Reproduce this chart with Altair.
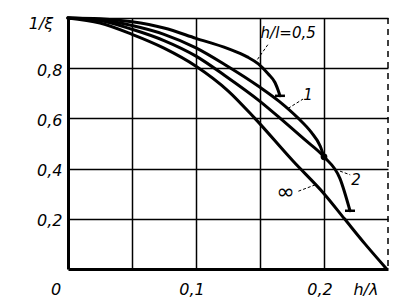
import altair as alt
import pandas as pd

# ---- data ----
h05_x = [0, 0.025, 0.05, 0.075, 0.1, 0.125, 0.14, 0.1487, 0.1565, 0.1617, 0.1643, 0.1656]
h05_y = [1.0, 0.997, 0.985, 0.96, 0.919, 0.878, 0.845, 0.817, 0.777, 0.743, 0.71, 0.69]
h1_x = [0, 0.025, 0.05, 0.075, 0.1, 0.1227, 0.15, 0.165, 0.18, 0.19, 0.197, 0.2]
h1_y = [1.0, 0.993, 0.97, 0.935, 0.881, 0.814, 0.724, 0.668, 0.6, 0.545, 0.49, 0.447]
h2_x = [0, 0.025, 0.05, 0.075, 0.1, 0.1227, 0.15, 0.167, 0.185, 0.2, 0.2125, 0.2203]
h2_y = [1.0, 0.99, 0.955, 0.91, 0.848, 0.77, 0.668, 0.595, 0.515, 0.447, 0.36, 0.232]
inf_x = [0, 0.025, 0.05, 0.075, 0.1, 0.125, 0.146, 0.1758, 0.2, 0.216, 0.232, 0.249]
inf_y = [1.0, 0.98, 0.935, 0.88, 0.808, 0.71, 0.6, 0.43, 0.3, 0.2, 0.1, 0.0]
curve_names = ["0,5", "1", "2", "inf"]

x_ticks = [0.0, 0.1, 0.2]
x_tick_labels = ["0", "0,1", "0,2"]
x_title = "h/λ"
y_title = "1/ξ"

# annotation labels
ann_text = ["h/l=0,5", "1", "2", "∞"]
ann_x = [0.172, 0.1875, 0.225, 0.170]
ann_y = [0.942, 0.693, 0.355, 0.305]

FONT = "DejaVu Sans"

rows = []
for name, xs_, ys_ in zip(curve_names, [h05_x, h1_x, h2_x, inf_x], [h05_y, h1_y, h2_y, inf_y]):
    for xv, yv in zip(xs_, ys_):
        rows.append({"curve": name, "x": xv, "y": yv})
df = pd.DataFrame(rows)

ends = pd.DataFrame({"x": [h05_x[-1], h2_x[-1]], "y": [h05_y[-1], h2_y[-1]]})
dot = pd.DataFrame({"x": [h1_x[-1]], "y": [h1_y[-1]]})

xs = alt.Scale(domain=[0, 0.25], nice=False, zero=False)
ys = alt.Scale(domain=[0, 1], nice=False)

lines = alt.Chart(df).mark_line(
    color="black", strokeWidth=3, interpolate="monotone", strokeCap="round"
).encode(
    x=alt.X("x:Q", scale=xs, axis=alt.Axis(
        values=[0.05, 0.1, 0.15, 0.2], grid=True, labels=False, ticks=False, title=None,
        domainWidth=3, domainColor="black", gridColor="black", gridWidth=1.5, gridOpacity=1)),
    y=alt.Y("y:Q", scale=ys, axis=alt.Axis(
        values=[0.2, 0.4, 0.6, 0.8, 1.0], grid=True, ticks=False, title=None,
        labelExpr="datum.value >= 1 ? '' : replace(format(datum.value, '.1f'), '.', ',')",
        labelFont=FONT, labelFontStyle="italic", labelFontSize=16, labelColor="black",
        labelPadding=6, labelOffset=2,
        domainWidth=3, domainColor="black", gridColor="black", gridWidth=1.5, gridOpacity=1)),
    detail="curve:N",
)

right_border = alt.Chart(pd.DataFrame({"x": [0.25]})).mark_rule(
    color="black", strokeWidth=1.5, strokeDash=[6, 5]
).encode(x=alt.X("x:Q", scale=xs))

end_ticks = alt.Chart(ends).mark_point(
    shape="M-1,0L1,0", size=100, stroke="black", strokeWidth=2.5, filled=False, opacity=1
).encode(x=alt.X("x:Q", scale=xs), y=alt.Y("y:Q", scale=ys))

end_dot = alt.Chart(dot).mark_circle(size=45, color="black", opacity=1).encode(
    x=alt.X("x:Q", scale=xs), y=alt.Y("y:Q", scale=ys))

leaders_df = pd.DataFrame({
    "x": [0.148, 0.172, 0.2125, 0.18],
    "y": [0.835, 0.64, 0.39, 0.31],
    "x2": [0.157, 0.1836, 0.2205, 0.193],
    "y2": [0.9, 0.677, 0.375, 0.335],
})
leaders = alt.Chart(leaders_df).mark_rule(color="black", strokeWidth=1, strokeDash=[3, 2]).encode(
    x=alt.X("x:Q", scale=xs), y=alt.Y("y:Q", scale=ys), x2="x2:Q", y2="y2:Q")

ann_df = pd.DataFrame({"t": ann_text, "x": ann_x, "y": ann_y})
ann_small = alt.Chart(ann_df[ann_df.t != "∞"]).mark_text(
    font=FONT, fontStyle="italic", fontSize=15, color="black", align="center", baseline="middle"
).encode(x=alt.X("x:Q", scale=xs), y=alt.Y("y:Q", scale=ys), text="t:N")
ann_inf = alt.Chart(ann_df[ann_df.t == "∞"]).mark_text(
    font=FONT, fontSize=22, color="black", align="center", baseline="middle"
).encode(x=alt.X("x:Q", scale=xs), y=alt.Y("y:Q", scale=ys), text="t:N")

xlab_df = pd.DataFrame({"x": x_ticks, "t": x_tick_labels})
xlabels = alt.Chart(xlab_df[xlab_df.x > 0]).mark_text(
    font=FONT, fontStyle="italic", fontSize=16, color="black", align="center", baseline="middle", dx=-4
).encode(x=alt.X("x:Q", scale=xs), y=alt.value(272), text="t:N")
xzero = alt.Chart(xlab_df[xlab_df.x == 0]).mark_text(
    font=FONT, fontStyle="italic", fontSize=16, color="black", align="center", baseline="middle", dx=-12
).encode(x=alt.X("x:Q", scale=xs), y=alt.value(272), text="t:N")
xtitle = alt.Chart(pd.DataFrame({"t": [x_title], "x": [0.2328]})).mark_text(
    font=FONT, fontStyle="italic", fontSize=16, color="black", align="center", baseline="middle"
).encode(x=alt.X("x:Q", scale=xs), y=alt.value(272), text="t:N")
ytitle = alt.Chart(pd.DataFrame({"t": [y_title], "y": [1.0]})).mark_text(
    font=FONT, fontStyle="italic", fontSize=16, color="black", align="center", baseline="middle", dy=6
).encode(x=alt.value(-27), y=alt.Y("y:Q", scale=ys), text="t:N")

chart = alt.layer(
    lines, right_border, leaders, end_ticks, end_dot, ann_small, ann_inf,
    xlabels, xzero, xtitle, ytitle
).properties(
    width=320, height=251,
    padding={"left": 68, "top": 18, "right": 24, "bottom": 36},
    autosize=alt.AutoSizeParams(type="none"),
    background="white",
).configure_view(stroke=None)

chart.save("out.html", embed_options={"renderer": "svg", "actions": False})
